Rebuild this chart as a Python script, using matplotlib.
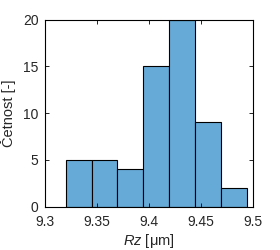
import numpy as np
import matplotlib
matplotlib.use("Agg")
import matplotlib.pyplot as plt

plt.rcParams['font.family'] = ['Liberation Sans', 'DejaVu Sans']
plt.rcParams['mathtext.fontset'] = 'custom'
plt.rcParams['mathtext.it'] = 'Liberation Sans:italic'
plt.rcParams['mathtext.rm'] = 'Liberation Sans'

# histogram of Rz values
bin_edges = [9.3195, 9.3445, 9.3695, 9.3945, 9.4195, 9.4445, 9.4695, 9.4945]
counts = [5, 5, 4, 15, 20, 9, 2]
x_ticks = [9.3, 9.35, 9.4, 9.45, 9.5]
x_tick_labels = ['9.3', '9.35', '9.4', '9.45', '9.5']
y_ticks = [0, 5, 10, 15, 20]

fig = plt.figure(figsize=(2.8, 2.5), dpi=100)
ax = fig.add_axes([0.162, 0.173, 0.741, 0.749])

edges = np.array(bin_edges)
ax.bar(edges[:-1], counts, width=np.diff(edges), align='edge',
       color='#66aad7', edgecolor='black', linewidth=0.8)

ax.set_xlim(9.3, 9.5)
ax.set_ylim(0, 20)
ax.set_xticks(x_ticks)
ax.set_xticklabels(x_tick_labels)
ax.set_yticks(y_ticks)
ax.tick_params(direction='in', length=3, width=0.6, labelsize=10,
               labelcolor='#262626', top=True, right=True)
ax.tick_params(axis='x', pad=6)
ax.tick_params(axis='y', pad=5)
for s in ax.spines.values():
    s.set_linewidth(0.8)

ax.set_xlabel(r'$Rz$ [μm]', fontsize=10.5, color='#262626', labelpad=2)
ax.set_ylabel('Četnost [-]', fontsize=10.5, color='#262626', labelpad=5)

fig.savefig('out.png', dpi=100)
